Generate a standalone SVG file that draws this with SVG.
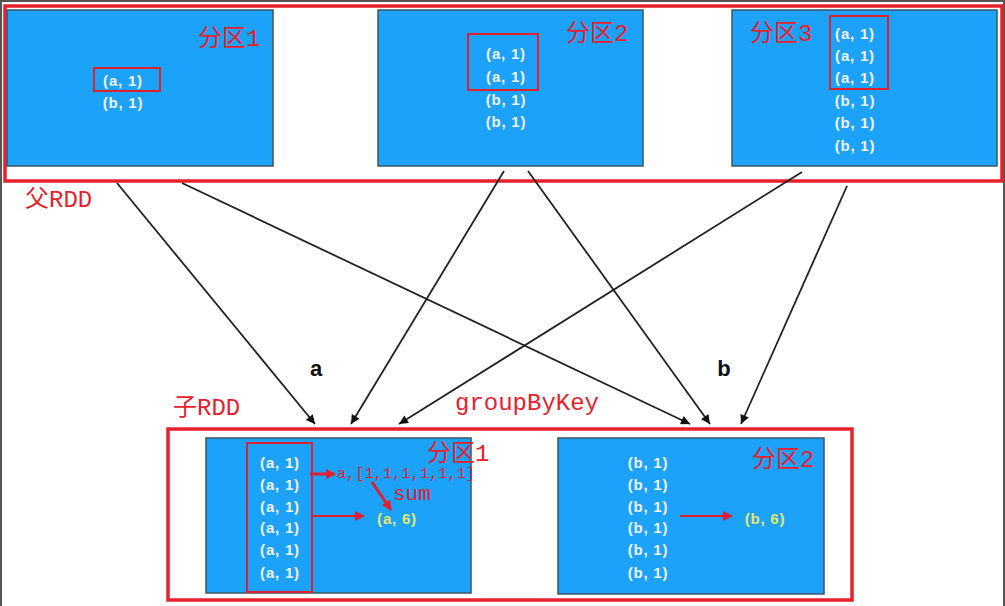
<svg xmlns="http://www.w3.org/2000/svg" width="1005" height="606" viewBox="0 0 1005 606">
<style>
.part{fill:#1da2f9;stroke:#3d5566;stroke-width:1.5}
.frame{fill:none;stroke:#e8202c;stroke-width:3.5}
.hl{fill:none;stroke:#e0202c;stroke-width:2}
.kv{font-family:"Liberation Sans",Arial,sans-serif;font-weight:bold;font-size:15px;fill:#eef3f8;text-anchor:middle;letter-spacing:0.8px}
.res{font-family:"Liberation Sans",Arial,sans-serif;font-weight:bold;font-size:15px;fill:#e4e86c;text-anchor:middle;letter-spacing:0.8px}
.lbl{font-family:"Liberation Mono","Noto Sans CJK SC",monospace;font-size:24px;fill:#e8202c}
.note{font-family:"Liberation Mono",monospace;fill:#e02030}
.key{font-family:"Liberation Sans",Arial,sans-serif;font-weight:bold;font-size:22px;fill:#111;text-anchor:middle}
.conn{stroke:#222;stroke-width:1.8;fill:none;marker-end:url(#ah)}
.rarrow{stroke:#e02030;fill:none;marker-end:url(#rh)}
</style>
<defs>
<marker id="ah" viewBox="0 0 10 10" refX="10" refY="5" markerWidth="12" markerHeight="9" markerUnits="userSpaceOnUse" orient="auto">
<path d="M0,0 L10,5 L0,10 z" fill="#111"/>
</marker>
<marker id="rh" viewBox="0 0 10 10" refX="9" refY="5" markerWidth="12" markerHeight="10" markerUnits="userSpaceOnUse" orient="auto">
<path d="M0,0 L10,5 L0,10 z" fill="#e02030"/>
</marker>
</defs>
<rect x="0" y="0" width="1005" height="606" fill="#fff"/>
<path d="M1,606 V1 H1004 V606" fill="none" stroke="#555" stroke-width="2"/>

<g id="parent-rdd">
<rect class="frame" x="5" y="6" width="997" height="175"/>
<text class="lbl" x="25" y="207" font-size="23">父RDD</text>
</g>

<g id="p1">
<rect class="part" x="7" y="10" width="266" height="156"/>
<text class="lbl" x="198" y="46">分区1</text>
<rect class="hl" x="94" y="68" width="66" height="23"/>
<text class="kv" x="123" y="80" dominant-baseline="central">(a, 1)</text>
<text class="kv" x="123" y="102" dominant-baseline="central">(b, 1)</text>
</g>

<g id="p2">
<rect class="part" x="378" y="10" width="265" height="156"/>
<text class="lbl" x="566" y="41">分区2</text>
<rect class="hl" x="468" y="34" width="70" height="56"/>
<text class="kv" x="506" y="53" dominant-baseline="central">(a, 1)</text>
<text class="kv" x="506" y="76" dominant-baseline="central">(a, 1)</text>
<text class="kv" x="506" y="99" dominant-baseline="central">(b, 1)</text>
<text class="kv" x="506" y="121" dominant-baseline="central">(b, 1)</text>
</g>

<g id="p3">
<rect class="part" x="732" y="10" width="265" height="156"/>
<text class="lbl" x="750" y="41">分区3</text>
<rect class="hl" x="830" y="16" width="58" height="73"/>
<text class="kv" x="855" y="33" dominant-baseline="central">(a, 1)</text>
<text class="kv" x="855" y="55" dominant-baseline="central">(a, 1)</text>
<text class="kv" x="855" y="77" dominant-baseline="central">(a, 1)</text>
<text class="kv" x="855" y="100" dominant-baseline="central">(b, 1)</text>
<text class="kv" x="855" y="122" dominant-baseline="central">(b, 1)</text>
<text class="kv" x="855" y="145" dominant-baseline="central">(b, 1)</text>
</g>

<g id="connectors">
<line class="conn" x1="117" y1="183" x2="315" y2="424"/>
<line class="conn" x1="182" y1="183" x2="690" y2="424"/>
<line class="conn" x1="504" y1="171" x2="351" y2="424"/>
<line class="conn" x1="528" y1="171" x2="710" y2="424"/>
<line class="conn" x1="802" y1="172" x2="399" y2="424"/>
<line class="conn" x1="847" y1="186" x2="741" y2="424"/>
<text class="key" x="316" y="376">a</text>
<text class="key" x="724" y="376">b</text>
<text class="lbl" x="455" y="410">groupByKey</text>
</g>

<g id="child-rdd">
<rect class="frame" x="168" y="429" width="684" height="171"/>
<text class="lbl" x="173" y="415" font-size="23">子RDD</text>
</g>

<g id="c1">
<rect class="part" x="206" y="438" width="265" height="155"/>
<text class="lbl" x="427" y="461">分区1</text>
<rect class="hl" x="247" y="443" width="65" height="149"/>
<text class="kv" x="280" y="462" dominant-baseline="central">(a, 1)</text>
<text class="kv" x="280" y="484" dominant-baseline="central">(a, 1)</text>
<text class="kv" x="280" y="506" dominant-baseline="central">(a, 1)</text>
<text class="kv" x="280" y="527" dominant-baseline="central">(a, 1)</text>
<text class="kv" x="280" y="549" dominant-baseline="central">(a, 1)</text>
<text class="kv" x="280" y="572" dominant-baseline="central">(a, 1)</text>
<line class="rarrow" stroke-width="3" x1="310" y1="474" x2="335" y2="474"/>
<text class="note" x="337" y="478" font-size="15" textLength="138">a,[1,1,1,1,1,1]</text>
<line class="rarrow" stroke-width="3" x1="372" y1="482" x2="391" y2="510"/>
<text class="note" x="393" y="500" font-size="21">sum</text>
<line class="rarrow" stroke-width="2" x1="313" y1="516" x2="364" y2="516"/>
<text class="res" x="397" y="518" dominant-baseline="central">(a, 6)</text>
</g>

<g id="c2">
<rect class="part" x="558" y="438" width="266" height="156"/>
<text class="lbl" x="752" y="467">分区2</text>
<text class="kv" x="648" y="462" dominant-baseline="central">(b, 1)</text>
<text class="kv" x="648" y="484" dominant-baseline="central">(b, 1)</text>
<text class="kv" x="648" y="506" dominant-baseline="central">(b, 1)</text>
<text class="kv" x="648" y="527" dominant-baseline="central">(b, 1)</text>
<text class="kv" x="648" y="549" dominant-baseline="central">(b, 1)</text>
<text class="kv" x="648" y="572" dominant-baseline="central">(b, 1)</text>
<line class="rarrow" stroke-width="2" x1="680" y1="516" x2="732" y2="516"/>
<text class="res" x="765" y="518" dominant-baseline="central">(b, 6)</text>
</g>
</svg>
